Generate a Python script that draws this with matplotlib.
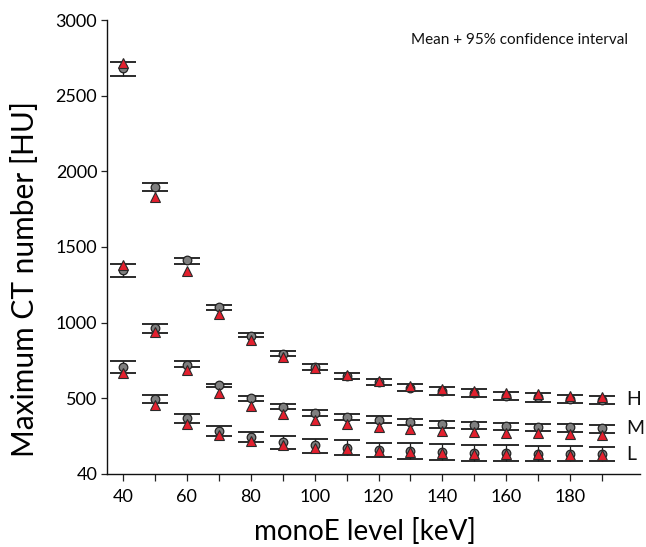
import matplotlib
matplotlib.use("Agg")
import matplotlib.pyplot as plt
import numpy as np

plt.rcParams['font.family'] = ['Lato', 'DejaVu Sans']

kev = [40, 50, 60, 70, 80, 90, 100, 110, 120, 130, 140, 150, 160, 170, 180, 190]

# H group
h_circle = [2681, 1894, 1414, 1101, 914, 793, 705, 650, 608, 568, 548, 533, 515, 507, 496, 489]
h_tri    = [2714, 1832, 1343, 1055, 885, 775, 700, 654, 615, 584, 564, 546, 533, 527, 515, 511]
h_upper  = [2724, 1921, 1429, 1119, 930, 811, 725, 669, 630, 595, 573, 562, 544, 533, 522, 515]
h_lower  = [2630, 1870, 1388, 1084, 903, 778, 685, 630, 586, 551, 524, 511, 489, 476, 467, 463]

# M group
m_circle = [1348, 963, 722, 588, 500, 445, 405, 379, 357, 344, 332, 324, 317, 313, 309, 304]
m_tri    = [1381, 938, 687, 537, 451, 396, 357, 330, 313, 297, 286, 280, 273, 269, 264, 260]
m_upper  = [1390, 991, 747, 597, 515, 465, 425, 398, 381, 365, 352, 346, 337, 332, 328, 326]
m_lower  = [1300, 934, 709, 573, 484, 428, 385, 357, 335, 322, 306, 299, 291, 284, 278, 273]

# L group
l_circle = [707, 498, 368, 282, 244, 209, 190, 170, 159, 150, 143, 139, 136, 134, 132, 132]
l_tri    = [670, 454, 330, 258, 216, 190, 170, 165, 154, 145, 139, 135, 132, 130, 128, 128]
l_upper  = [749, 520, 396, 319, 276, 251, 233, 223, 207, 203, 198, 192, 190, 185, 183, 180]
l_lower  = [667, 471, 339, 253, 209, 167, 141, 124, 110, 99, 93, 88, 86, 84, 84, 84]

group_labels = ["H", "M", "L"]
ytick_vals = [0, 500, 1000, 1500, 2000, 2500, 3000]
ytick_labels = ["40", "500", "1000", "1500", "2000", "2500", "3000"]
xtick_major = [40, 60, 80, 100, 120, 140, 160, 180]

fig = plt.figure(figsize=(6.46, 5.47), dpi=100)
ax = fig.add_axes([0.1656, 0.1335, 0.8244, 0.8299])

x = np.array(kev)
groups = [(h_circle, h_tri, h_upper, h_lower),
          (m_circle, m_tri, m_upper, m_lower),
          (l_circle, l_tri, l_upper, l_lower)]

for circ, tri, up, lo in groups:
    circ = np.array(circ); up = np.array(up); lo = np.array(lo)
    center = (up + lo) / 2.0
    half = (up - lo) / 2.0
    ax.errorbar(x, center, yerr=half, fmt='none', ecolor='#1a1a1a',
                elinewidth=0.9, capsize=9.5, capthick=1.3, zorder=2)
    ax.plot(x, circ, linestyle='none', marker='o', markersize=6.2,
            markerfacecolor='#7f7f7f', markeredgecolor='#222222',
            markeredgewidth=0.9, zorder=3)
    ax.plot(x, tri, linestyle='none', marker='^', markersize=7.3,
            markerfacecolor='#e3202e', markeredgecolor='#2a2a2a',
            markeredgewidth=0.8, zorder=4)

ax.set_xlim(35, 201.7)
ax.set_ylim(0, 3000)

ax.set_yticks(ytick_vals)
ax.set_yticklabels(ytick_labels)
ax.set_xticks(xtick_major)
ax.set_xticks(kev, minor=True)
ax.tick_params(axis='x', which='both', direction='out', length=5, width=0.9,
               labelsize=13, pad=6, color='#222222')
ax.tick_params(axis='y', direction='out', length=4, width=0.9,
               labelsize=13, pad=3, color='#222222')

for s in ['top', 'right']:
    ax.spines[s].set_visible(False)
for s in ['left', 'bottom']:
    ax.spines[s].set_linewidth(1.0)
    ax.spines[s].set_color('#111111')

ax.set_ylabel("Maximum CT number [HU]", fontsize=21.5)
ax.yaxis.set_label_coords(-0.128, 0.43)
ax.set_xlabel("monoE level [keV]", fontsize=20)
ax.xaxis.set_label_coords(0.485, -0.097)

ax.text(0.978, 0.972, "Mean + 95% confidence interval", transform=ax.transAxes,
        ha='right', va='top', fontsize=11, color='#111111')

for lab, yv in zip(group_labels, [495, 300, 128]):
    ax.text(197.5, yv, lab, ha='left', va='center', fontsize=14, color='#111111')

fig.savefig("out.png", dpi=100)
